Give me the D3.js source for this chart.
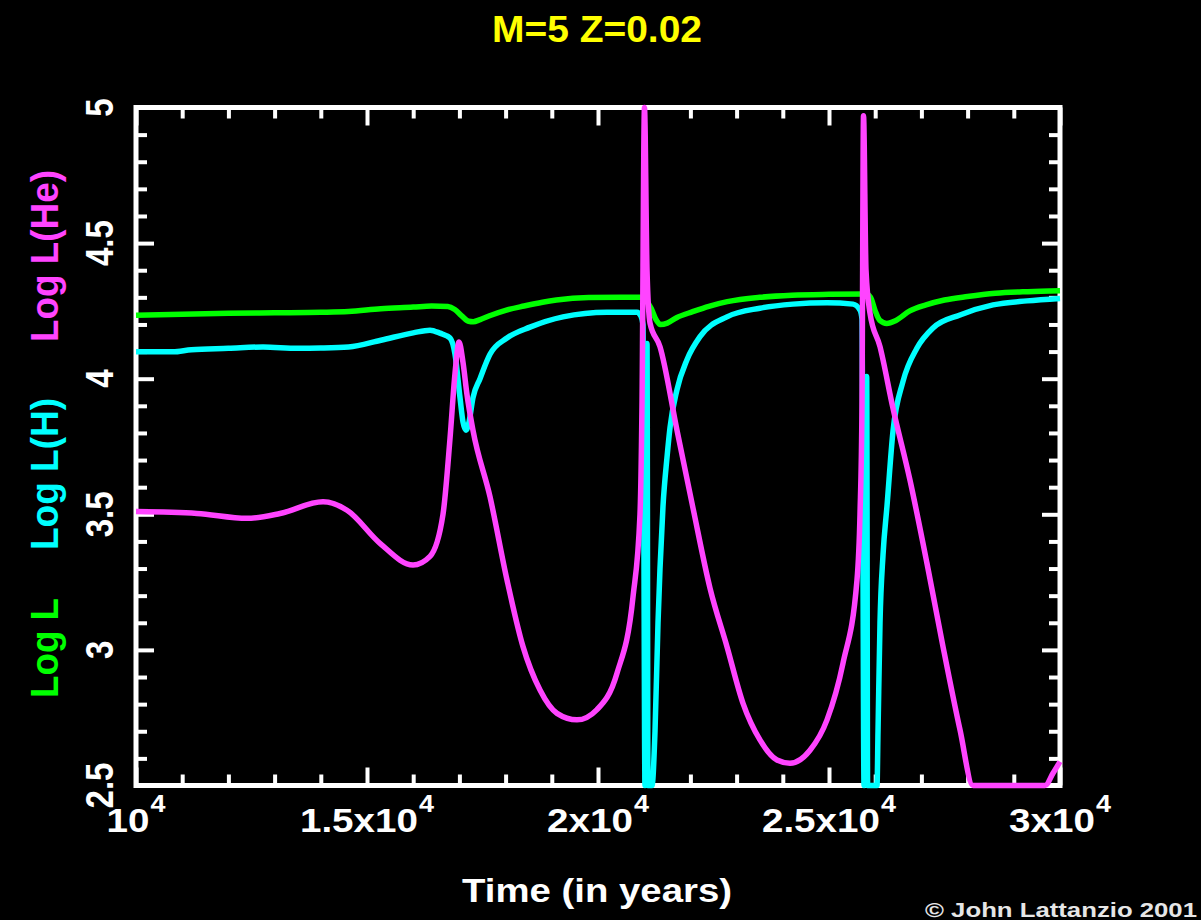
<!DOCTYPE html>
<html>
<head>
<meta charset="utf-8">
<script src="https://cdn.jsdelivr.net/npm/d3@7"></script>
<style>
  html, body { margin: 0; padding: 0; background: #000; }
  svg { display: block; }
  text { font-family: "Liberation Sans", Arial, sans-serif; font-weight: bold; }
</style>
</head>
<body>
<script>
// Thermal pulses of a 5 solar-mass, Z=0.02 AGB model.
// Each series: [time in years, log luminosity]
const logL = [
  [10000,4.234],[11000,4.238],[12000,4.241],[13000,4.243],[14000,4.245],[14600,4.248],
  [15300,4.258],[16000,4.264],[16400,4.268],[16750,4.266],[16900,4.255],[17050,4.232],
  [17200,4.212],[17300,4.210],[17450,4.218],[17700,4.235],[18000,4.252],[18400,4.268],
  [18800,4.282],[19100,4.290],[19800,4.299],[20500,4.300],[20950,4.300],[21050,4.285],
  [21150,4.260],[21250,4.220],[21350,4.200],[21500,4.205],[21700,4.225],[22050,4.247],
  [22400,4.267],[22800,4.284],[23500,4.300],[24200,4.308],[25000,4.311],[25800,4.312],
  [25900,4.300],[26000,4.250],[26100,4.215],[26250,4.204],[26450,4.215],[26750,4.250],
  [27100,4.272],[27500,4.290],[28000,4.303],[28600,4.315],[29300,4.321],[30000,4.324]
];

const logLH = [
  [10000,4.099],[10800,4.099],[11200,4.107],[12000,4.112],[12750,4.117],[13500,4.112],
  [14000,4.113],[14600,4.117],[15300,4.142],[16000,4.169],[16364,4.179],[16580,4.168],
  [16797,4.150],[16905,4.090],[17013,3.930],[17078,3.840],[17143,3.810],[17208,3.840],
  [17294,3.930],[17446,4.000],[17662,4.090],[18030,4.150],[18528,4.190],[19242,4.228],
  [20195,4.245],[20844,4.245],[20931,4.230],[20974,4.200],[21017,2.350],[21061,4.130],
  [21082,2.350],[21169,2.350],[21234,2.700],[21299,3.100],[21342,3.300],[21407,3.530],
  [21494,3.710],[21559,3.820],[21710,3.960],[21926,4.070],[22208,4.155],[22792,4.228],
  [23506,4.260],[24221,4.275],[24957,4.280],[25519,4.275],[25671,4.253],[25714,4.220],
  [25758,2.350],[25816,4.008],[25836,2.350],[26039,2.350],[26061,2.700],[26104,3.100],
  [26169,3.350],[26255,3.530],[26385,3.806],[26602,3.990],[26905,4.113],[27251,4.187],
  [27836,4.235],[28550,4.272],[29286,4.287],[30000,4.296]
];

const logLHe = [
  [10000,3.510],[11320,3.503],[12403,3.485],[13117,3.503],[14048,3.546],[14567,3.515],
  [15281,3.393],[15996,3.313],[16364,3.345],[16645,3.500],[16797,3.780],[16905,4.020],
  [16992,4.135],[17078,4.060],[17165,3.940],[17294,3.810],[17662,3.565],[18030,3.258],
  [18377,3.012],[18745,2.852],[19113,2.766],[19545,2.742],[19978,2.780],[20411,2.914],
  [20758,3.196],[20909,3.500],[20952,3.900],[21006,5.000],[21061,4.400],[21126,4.205],
  [21342,4.118],[21710,3.810],[22056,3.523],[22424,3.228],[22792,3.012],[23139,2.803],
  [23506,2.668],[23874,2.594],[24156,2.582],[24589,2.630],[24957,2.742],[25303,2.951],
  [25606,3.258],[25671,3.500],[25714,3.900],[25747,4.970],[25801,4.400],[25887,4.242],
  [26104,4.118],[26385,3.891],[26753,3.626],[27121,3.319],[27468,3.012],[27836,2.705],
  [28117,2.500],[28700,2.380],[29350,2.400],[29675,2.500],[29848,2.545],[30000,2.588]
];

const xMajorTicks = [10000, 15000, 20000, 25000, 30000];
const xTickLabels = [["10", "4"], ["1.5x10", "4"], ["2x10", "4"], ["2.5x10", "4"], ["3x10", "4"]];
const yMajorTicks = [2.5, 3, 3.5, 4, 4.5, 5];
const yTickLabels = ["2.5", "3", "3.5", "4", "4.5", "5"];

const titleText = "M=5 Z=0.02";
const xTitle = "Time (in years)";
const yTitles = [
  { text: "Log L",     color: "#00ff00", center: 648, len: 100 },
  { text: "Log L(H)",  color: "#00ffff", center: 474, len: 152 },
  { text: "Log L(He)", color: "#ff44ff", center: 256, len: 172 }
];
const credit = "\u00a9 John Lattanzio 2001";

const W = 1201, H = 920;
const box = { left: 136, right: 1060, top: 107.5, bottom: 785.5 };
const stretch = 1.17;

const svg = d3.select("body").append("svg").attr("width", W).attr("height", H);
svg.append("rect").attr("width", W).attr("height", H).attr("fill", "#000");

const x = d3.scaleLinear().domain([10000, 30000]).range([box.left, box.right]);
const y = d3.scaleLinear().domain([2.5, 5]).range([box.bottom, box.top]).clamp(true);

const xMinor = d3.range(10000, 30001, 1000).filter(v => !xMajorTicks.includes(v));
const yMinor = d3.range(25, 51, 1).map(v => v / 10).filter(v => !yMajorTicks.includes(v));

function styleAxis(g) {
  g.select(".domain").remove();
  g.selectAll("line").attr("stroke", "#fff").attr("stroke-width", 4);
  g.selectAll("text").remove();
}

// inward-pointing ticks on all four sides
const axes = [
  [d3.axisBottom(x), `translate(0,${box.bottom})`, xMinor, xMajorTicks],
  [d3.axisTop(x), `translate(0,${box.top})`, xMinor, xMajorTicks],
  [d3.axisLeft(y), `translate(${box.left},0)`, yMinor, yMajorTicks],
  [d3.axisRight(y), `translate(${box.right},0)`, yMinor, yMajorTicks]
];
axes.forEach(([axis, tr, minor, major]) => {
  svg.append("g").attr("transform", tr)
    .call(axis.tickValues(minor).tickSize(-11).tickFormat(""))
    .call(styleAxis);
  svg.append("g").attr("transform", tr)
    .call(axis.tickValues(major).tickSize(-18).tickFormat(""))
    .call(styleAxis);
});

// plot frame
svg.append("rect")
  .attr("x", box.left).attr("y", box.top)
  .attr("width", box.right - box.left).attr("height", box.bottom - box.top)
  .attr("fill", "none").attr("stroke", "#fff").attr("stroke-width", 5);

// curves
const line = d3.line().curve(d3.curveMonotoneX).x(d => x(d[0])).y(d => y(d[1]));
[[logL, "#00ff00"], [logLH, "#00ffff"], [logLHe, "#ff44ff"]].forEach(([data, color]) => {
  svg.append("path").datum(data)
    .attr("d", line)
    .attr("fill", "none")
    .attr("stroke", color)
    .attr("stroke-width", 5.5)
    .attr("stroke-linejoin", "round")
    .attr("stroke-linecap", "butt");
});

// title
svg.append("text")
  .attr("x", 597).attr("y", 42)
  .attr("text-anchor", "middle")
  .attr("font-size", 37)
  .attr("textLength", 210).attr("lengthAdjust", "spacingAndGlyphs")
  .attr("fill", "#ffff00")
  .text(titleText);

// x tick labels with superscript exponent
xMajorTicks.forEach((t, i) => {
  const g = svg.append("g").attr("transform", `translate(${x(t)},832) scale(${stretch},1)`);
  const base = g.append("text").attr("font-size", 33).attr("fill", "#fff").text(xTickLabels[i][0]);
  const sup = g.append("text").attr("font-size", 23).attr("fill", "#fff").attr("y", -20).text(xTickLabels[i][1]);
  const bw = base.node().getComputedTextLength();
  const sw = sup.node().getComputedTextLength();
  const total = bw + sw + 1;
  base.attr("x", -total / 2);
  sup.attr("x", -total / 2 + bw + 1);
});

// x title
svg.append("text")
  .attr("x", 597).attr("y", 902)
  .attr("text-anchor", "middle")
  .attr("font-size", 33)
  .attr("textLength", 270).attr("lengthAdjust", "spacingAndGlyphs")
  .attr("fill", "#fff")
  .text(xTitle);

// y tick labels, rotated
yMajorTicks.forEach((v, i) => {
  svg.append("text")
    .attr("transform", `translate(113,${y(v)}) scale(${stretch},1) rotate(-90)`)
    .attr("text-anchor", "middle")
    .attr("font-size", 33)
    .attr("fill", "#fff")
    .text(yTickLabels[i]);
});

// y titles, one per series colour
yTitles.forEach(d => {
  svg.append("text")
    .attr("transform", `translate(58,${d.center}) scale(${stretch},1) rotate(-90)`)
    .attr("text-anchor", "middle")
    .attr("font-size", 33)
    .attr("textLength", d.len).attr("lengthAdjust", "spacingAndGlyphs")
    .attr("fill", d.color)
    .text(d.text);
});

// credit line
svg.append("text")
  .attr("x", 925).attr("y", 917)
  .attr("font-size", 21)
  .attr("textLength", 272).attr("lengthAdjust", "spacingAndGlyphs")
  .attr("fill", "#e6e6e6")
  .text(credit);
</script>
</body>
</html>
